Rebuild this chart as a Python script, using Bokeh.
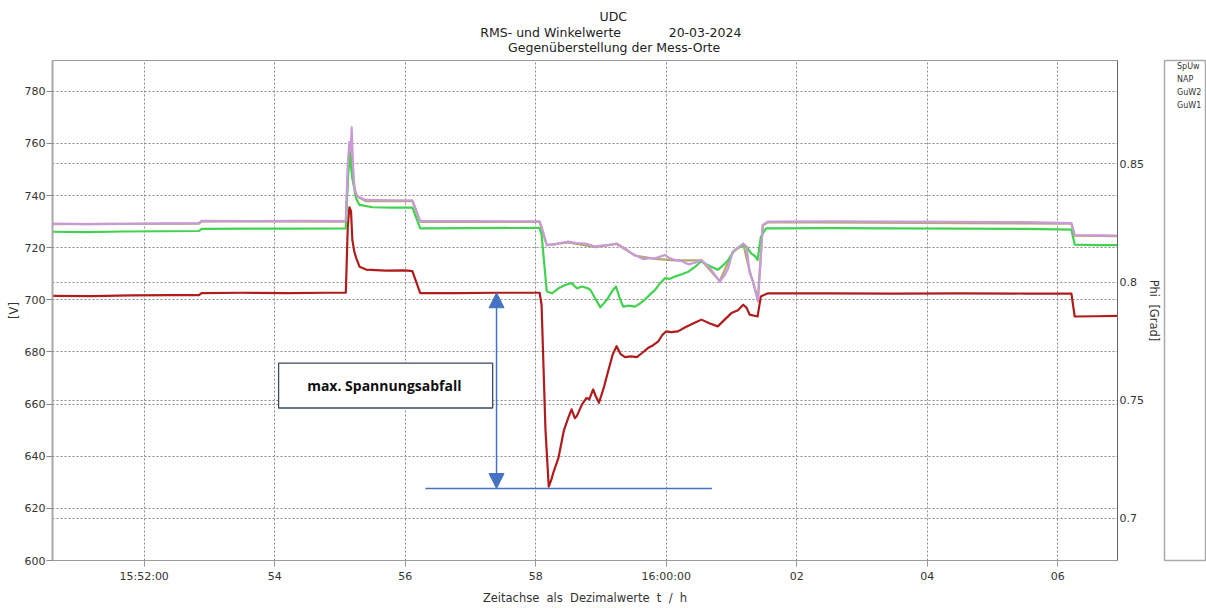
from bokeh.plotting import figure
from bokeh.models import (Range1d, LinearAxis, FixedTicker, Grid, Label, BoxAnnotation,
                          Arrow, NormalHead, Legend, LegendItem, CustomJSTickFormatter)
from bokeh.layouts import row
from bokeh.embed import file_html
from bokeh.resources import INLINE

# Time axis: minutes after 15:00 (52.0 == 15:52:00), values in volts.
SPUW = [(50.60, 701.5), (51.20, 701.4), (51.80, 701.7), (52.40, 701.8), (52.84, 701.8),
        (52.88, 702.6), (53.50, 702.7), (54.20, 702.6), (54.80, 702.7), (55.09, 702.7),
        (55.12, 728.0), (55.145, 735.5), (55.17, 734.0), (55.19, 723.0), (55.22, 718.5),
        (55.25, 716.0), (55.30, 712.7), (55.40, 711.6), (55.70, 711.2), (56.00, 711.3),
        (56.11, 711.0), (56.23, 702.6), (56.80, 702.6), (57.40, 702.7), (58.06, 702.7),
        (58.09, 698.0), (58.15, 650.0), (58.20, 628.3), (58.24, 631.0), (58.27, 633.7),
        (58.35, 639.5), (58.43, 649.7), (58.50, 654.8), (58.55, 658.0), (58.60, 654.6),
        (58.63, 655.4), (58.71, 659.9), (58.78, 662.4), (58.82, 661.8), (58.88, 665.6),
        (58.92, 663.0), (58.97, 660.5), (59.04, 666.0), (59.11, 672.6), (59.18, 679.0),
        (59.24, 682.2), (59.30, 679.2), (59.37, 678.0), (59.46, 678.3), (59.55, 678.0),
        (59.63, 679.6), (59.72, 681.5), (59.80, 682.6), (59.88, 684.1), (59.94, 686.5),
        (60.00, 687.9), (60.08, 687.6), (60.18, 687.9), (60.30, 689.6), (60.42, 691.0),
        (60.54, 692.4), (60.66, 691.0), (60.79, 689.8), (60.90, 692.5), (61.00, 694.9),
        (61.10, 696.0), (61.18, 698.1), (61.23, 697.0), (61.28, 694.3), (61.40, 693.6),
        (61.45, 701.3), (61.56, 702.5), (62.50, 702.5), (63.50, 702.4), (64.50, 702.5),
        (65.50, 702.4), (66.21, 702.4), (66.26, 693.6), (66.60, 693.7), (66.92, 693.8)]

NAP = [(50.60, 729.0), (52.84, 729.2), (52.88, 730.1), (55.09, 730.0), (55.12, 748.0),
       (55.16, 757.0), (55.20, 748.0), (55.24, 740.0), (55.40, 737.8), (56.11, 737.9),
       (56.23, 729.9), (58.06, 729.9), (58.17, 721.0), (58.50, 722.0), (58.91, 720.2),
       (59.24, 721.4), (59.52, 717.0), (59.83, 715.7), (60.13, 715.1), (60.54, 715.1),
       (60.82, 707.2), (61.02, 718.3), (61.18, 721.4), (61.28, 711.0), (61.405, 700.5),
       (61.48, 728.5), (61.56, 729.8), (66.21, 729.2), (66.26, 724.6), (66.92, 724.4)]

GUW2 = [(50.60, 726.1), (51.10, 726.0), (51.70, 726.2), (52.30, 726.3), (52.84, 726.4),
        (52.88, 727.2), (53.60, 727.3), (54.40, 727.3), (55.09, 727.4), (55.12, 745.0),
        (55.145, 756.5), (55.19, 746.5), (55.25, 738.8), (55.30, 736.4), (55.50, 735.5),
        (55.80, 735.4), (56.11, 735.4), (56.23, 727.4), (57.00, 727.5), (58.06, 727.6),
        (58.09, 725.0), (58.17, 703.2), (58.25, 702.5), (58.35, 704.4), (58.45, 705.7),
        (58.55, 706.4), (58.63, 704.4), (58.71, 705.1), (58.78, 704.6), (58.84, 703.8),
        (58.91, 700.6), (58.99, 697.1), (59.09, 700.0), (59.18, 703.6), (59.23, 705.1),
        (59.29, 700.5), (59.34, 697.4), (59.43, 697.8), (59.52, 697.4), (59.60, 698.6),
        (59.67, 700.0), (59.75, 702.0), (59.83, 703.8), (59.90, 706.2), (59.98, 708.3),
        (60.05, 708.0), (60.13, 708.9), (60.24, 709.8), (60.34, 710.8), (60.44, 712.6),
        (60.54, 714.9), (60.62, 713.5), (60.69, 712.7), (60.79, 711.5), (60.88, 713.4),
        (60.95, 715.3), (61.05, 719.1), (61.18, 721.0), (61.23, 720.4), (61.30, 717.8),
        (61.36, 716.8), (61.40, 715.3), (61.45, 724.2), (61.53, 727.4), (62.50, 727.5),
        (63.50, 727.4), (64.50, 727.3), (65.50, 727.2), (66.21, 726.9), (66.26, 721.2),
        (66.60, 721.0), (66.92, 721.0)]

GUW1 = [(50.60, 729.2), (51.10, 729.0), (51.70, 729.1), (52.30, 729.3), (52.84, 729.4),
        (52.88, 730.3), (53.60, 730.2), (54.40, 730.3), (55.09, 730.2), (55.12, 752.0),
        (55.145, 760.5), (55.165, 757.0), (55.18, 766.2), (55.20, 752.0), (55.22, 742.7),
        (55.27, 739.5), (55.40, 738.3), (55.80, 738.2), (56.11, 738.2), (56.23, 730.2),
        (57.00, 730.2), (58.06, 730.1), (58.09, 728.0), (58.17, 721.0), (58.30, 721.3),
        (58.40, 721.9), (58.50, 722.3), (58.62, 721.8), (58.76, 721.6), (58.91, 720.4),
        (59.00, 720.8), (59.11, 721.0), (59.24, 721.6), (59.37, 719.7), (59.45, 718.2),
        (59.52, 717.2), (59.65, 715.6), (59.75, 716.0), (59.83, 715.9), (59.98, 717.2),
        (60.05, 716.0), (60.13, 715.3), (60.24, 714.8), (60.34, 713.6), (60.44, 714.2),
        (60.54, 715.3), (60.67, 712.1), (60.75, 709.5), (60.82, 707.0), (60.90, 709.6),
        (60.95, 712.1), (61.02, 718.5), (61.18, 721.6), (61.23, 720.4), (61.28, 710.2),
        (61.33, 707.0), (61.405, 699.4), (61.446, 714.6), (61.48, 728.7), (61.56, 730.0),
        (62.50, 730.1), (63.50, 730.0), (64.50, 729.9), (65.50, 729.8), (66.21, 729.4),
        (66.26, 724.8), (66.60, 724.7), (66.92, 724.6)]

SERIES_NAMES = ["SpUw", "NAP", "GuW2", "GuW1"]
SERIES_COLORS = ["#b01c1c", "#b4a96c", "#43d24f", "#c99ad8"]

X_TICKS = [52, 54, 56, 58, 60, 62, 64, 66]
X_TICK_LABELS = ["15:52:00", "54", "56", "58", "16:00:00", "02", "04", "06"]
V_TICKS = [600, 620, 640, 660, 680, 700, 720, 740, 760, 780]
PHI_TICKS = [0.7, 0.75, 0.8, 0.85]

TITLE_LINES = ["UDC",
               "RMS- und Winkelwerte" + "\u00a0" * 12 + "20-03-2024",
               "Gegenüberstellung der Mess-Orte"]
# leading spaces per title line, so the lines sit centred over each other
TITLE_INDENT = [43, 13, 20]

# Voltage-drop annotation: undisturbed level before the dip and the lowest level reached
LEVEL_BEFORE = 702.7
LEVEL_MIN = 627.6

FONT = "DejaVu Sans"
GRID_COLOR = "#8a8a8a"
BLUE = "#4472c4"

p = figure(width=1163, height=608,
           x_range=Range1d(50.595, 66.916), y_range=Range1d(600, 791.8),
           output_backend="svg", toolbar_location=None,
           min_border_left=52, min_border_right=42, min_border_top=58, min_border_bottom=48,
           background_fill_color="white", border_fill_color="white",
           outline_line_color="#9c9c9c", outline_line_width=1)
p.extra_y_ranges = {"phi": Range1d(0.6822, 0.8937)}

# three-line title block
p.title.text = "\n".join("\u00a0" * n + line for n, line in zip(TITLE_INDENT, TITLE_LINES))
p.title.align = "center"
p.title.standoff = 10
p.title.text_font = FONT
p.title.text_font_size = "12.5px"
p.title.text_font_style = "normal"
p.title.text_line_height = 1.06
p.title.text_color = "#222222"

# grids
p.xgrid.ticker = FixedTicker(ticks=X_TICKS)
p.ygrid.ticker = FixedTicker(ticks=V_TICKS)
for g in (p.xgrid[0], p.ygrid[0]):
    g.grid_line_color = GRID_COLOR
    g.grid_line_dash = "2 2"
    g.grid_line_width = 1
phi_grid = Grid(dimension=1, ticker=FixedTicker(ticks=PHI_TICKS), y_range_name="phi",
                grid_line_color=GRID_COLOR, grid_line_dash="2 2", grid_line_width=1)
p.add_layout(phi_grid)

# bottom axis
xa = p.xaxis[0]
xa.ticker = FixedTicker(ticks=X_TICKS)
xa.major_label_overrides = dict(zip(X_TICKS, X_TICK_LABELS))
xa.axis_label = "Zeitachse\u00a0\u00a0als\u00a0\u00a0Dezimalwerte\u00a0\u00a0t\u00a0\u00a0/\u00a0\u00a0h"
xa.axis_line_color = "#9c9c9c"
xa.major_tick_line_color = "#999999"
xa.major_tick_out = 6
xa.major_tick_in = 0
xa.minor_tick_line_color = None
xa.major_label_standoff = 3

# left axis
ya = p.yaxis[0]
ya.ticker = FixedTicker(ticks=V_TICKS)
ya.axis_label = "[V]"
ya.axis_line_color = "#aaaaaa"
ya.axis_line_width = 2
ya.major_tick_line_color = "#888888"
ya.major_tick_out = 6
ya.major_tick_in = 0
ya.minor_tick_line_color = None
ya.major_label_standoff = 1
ya.axis_label_standoff = 1

# right axis (phase)
ra = LinearAxis(y_range_name="phi", ticker=FixedTicker(ticks=PHI_TICKS),
                axis_label="Phi\u00a0\u00a0[Grad]",
                formatter=CustomJSTickFormatter(code="return String(Math.round(tick * 100) / 100)"))
ra.axis_line_color = "#666666"
ra.major_tick_line_color = "#888888"
ra.major_tick_out = 0
ra.major_tick_in = 0
ra.minor_tick_line_color = None
ra.major_label_standoff = 2
ra.axis_label_standoff = 0
p.add_layout(ra, "right")

for ax in (xa, ya, ra):
    ax.major_label_text_font = FONT
    ax.major_label_text_font_size = "11px"
    ax.major_label_text_color = "#333333"
    ax.axis_label_text_font = FONT
    ax.axis_label_text_font_size = "11.5px"
    ax.axis_label_text_font_style = "normal"
    ax.axis_label_text_color = "#333333"

# measurement series
for data, name, color in zip([SPUW, NAP, GUW2, GUW1], SERIES_NAMES, SERIES_COLORS):
    t = [d[0] for d in data]
    v = [d[1] for d in data]
    p.line(t, v, line_color=color, line_width=2.2, line_join="round")

# voltage-drop annotation
p.segment(x0=[56.31], y0=[LEVEL_MIN], x1=[60.70], y1=[LEVEL_MIN],
          line_color=BLUE, line_width=1.5)
p.add_layout(Arrow(x_start=57.40, y_start=LEVEL_MIN, x_end=57.40, y_end=LEVEL_BEFORE,
                   line_color=BLUE, line_width=1.5,
                   start=NormalHead(size=15, fill_color=BLUE, line_color=BLUE),
                   end=NormalHead(size=15, fill_color=BLUE, line_color=BLUE)))
p.add_layout(BoxAnnotation(left=54.06, right=57.34, bottom=658.5, top=675.7,
                           fill_color="white", fill_alpha=1.0,
                           line_color="#3d4b5c", line_width=1.3, line_alpha=1.0))
p.add_layout(Label(x=55.68, y=667.0, text="max. Spannungsabfall", text_align="center",
                   text_baseline="middle", text_font="Open Sans", text_font_style="bold",
                   text_font_size="14px", text_color="#111111"))

# legend panel
pl = figure(width=43, height=608, x_range=Range1d(0, 1), y_range=Range1d(0, 1),
            output_backend="svg", toolbar_location=None,
            x_axis_location=None, y_axis_location=None,
            min_border_left=1, min_border_right=0, min_border_top=60, min_border_bottom=5,
            outline_line_color="#aaaaaa", outline_line_width=1.5,
            background_fill_color="white", border_fill_color="white")
pl.grid.visible = False
items = []
for name, color in zip(SERIES_NAMES, SERIES_COLORS):
    r = pl.line(x=[], y=[], line_color=color, line_width=2.5)
    items.append(LegendItem(label=name, renderers=[r]))
legend = Legend(items=items, location="top_left", margin=0, padding=2, spacing=0,
                label_height=13, glyph_height=13, glyph_width=10, label_standoff=3,
                label_text_font=FONT, label_text_font_size="8px",
                label_text_color="#333333", border_line_color=None,
                background_fill_alpha=0)
pl.add_layout(legend)

layout = row(p, pl)
open("out.html", "w").write(file_html(layout, INLINE))
